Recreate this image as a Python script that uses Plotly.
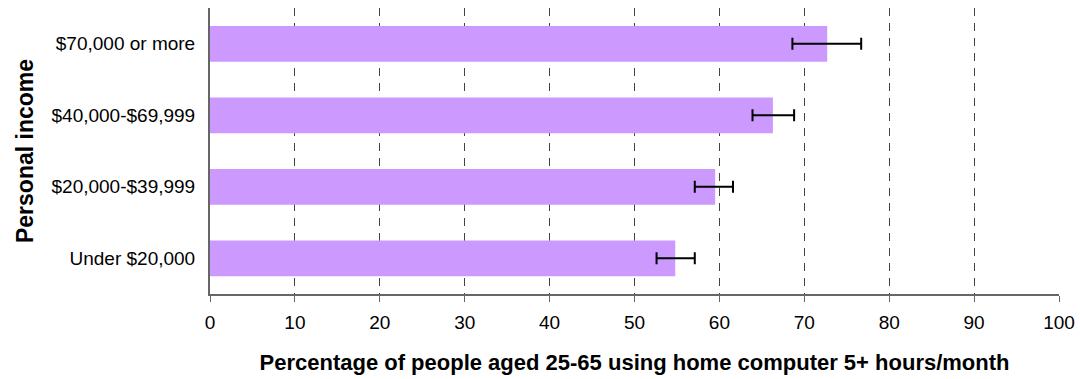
import plotly.graph_objects as go

categories = ["Under $20,000", "$20,000-$39,999", "$40,000-$69,999", "$70,000 or more"]
values = [54.8, 59.5, 66.3, 72.7]
err_plus = [2.3, 2.1, 2.5, 4.0]
err_minus = [2.2, 2.4, 2.4, 4.1]
x_ticks = [0, 10, 20, 30, 40, 50, 60, 70, 80, 90, 100]

fig = go.Figure(go.Bar(
    y=categories, x=values, orientation="h",
    marker=dict(color="#CC99FF", line=dict(width=0)),
    error_x=dict(type="data", symmetric=False, array=err_plus, arrayminus=err_minus,
                 color="black", thickness=2, width=6),
))

fig.update_layout(
    width=1080, height=379,
    margin=dict(l=210, r=21, t=8, b=85),
    plot_bgcolor="white", paper_bgcolor="white",
    bargap=0.5,
    showlegend=False,
    font=dict(family="Liberation Sans, Arial, sans-serif", color="black", size=19),
    xaxis=dict(
        range=[0, 100], tickvals=x_ticks, ticktext=[str(v) for v in x_ticks],
        showline=True, linecolor="#666666", linewidth=2,
        ticks="outside", ticklen=6, tickcolor="#666666",
        showgrid=True, gridcolor="#444444", gridwidth=1, griddash="8px,7px",
        zeroline=False, automargin=False, ticklabeloverflow="allow",
        ticklabelstandoff=4,
        title=dict(text="<b>Percentage of people aged 25-65 using home computer 5+ hours/month</b>",
                   font=dict(size=22), standoff=23),
        tickfont=dict(size=19),
    ),
    yaxis=dict(
        showline=True, linecolor="#666666", linewidth=2,
        ticks="", showgrid=False, automargin=False,
        ticklabelstandoff=9,
        title=dict(text="<b>Personal income</b>", font=dict(size=23), standoff=11),
        tickfont=dict(size=19),
    ),
)

fig.write_html("out.html", config={"displayModeBar": False},
               post_script="document.body.style.margin='0';document.body.style.overflow='hidden';")
